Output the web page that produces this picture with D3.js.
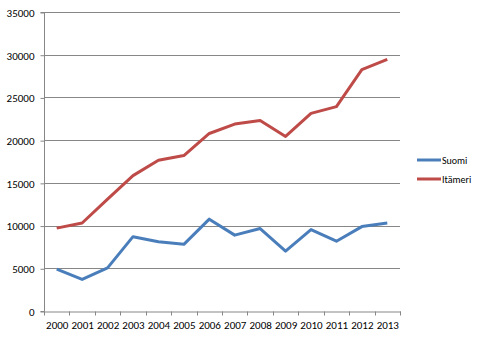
<!DOCTYPE html>
<html><head><meta charset="utf-8">
<script src="https://cdn.jsdelivr.net/npm/d3@7"></script>
<style>body{margin:0;background:#fff}svg{display:block}text{font-family:Carlito,Calibri,"Liberation Sans",Arial,sans-serif;fill:#000}</style>
</head><body><svg id="c" width="480" height="337"></svg>
<script>
const years = ["2000","2001","2002","2003","2004","2005","2006","2007","2008","2009","2010","2011","2012","2013"];
const suomi = [4900,3700,5050,8700,8100,7800,10750,8880,9650,7000,9530,8170,9880,10300];
const itameri = [9700,10300,13100,15850,17650,18200,20780,21880,22300,20430,23130,23920,28250,29450];
const yTicks = [0,5000,10000,15000,20000,25000,30000,35000];
const seriesNames = ["Suomi","Itämeri"];
const colors = ["#4a7ebb","#be4b48"];

const svg = d3.select("#c");
const L=44, R=400, T=12, B=311;
const x = d3.scaleBand().domain(years).range([L,R]);
const y = d3.scaleLinear().domain([0,35000]).range([B,T]);

// gridlines
svg.append("g").selectAll("line").data(yTicks.slice(1)).join("line")
  .attr("x1",L).attr("x2",R).attr("y1",d=>Math.round(y(d))+0.5).attr("y2",d=>Math.round(y(d))+0.5)
  .attr("stroke","#878787").attr("stroke-width",1);

// y axis
const ya = svg.append("g").attr("transform",`translate(${L+0.5},0.5)`)
  .call(d3.axisLeft(y).tickValues(yTicks).tickSize(4).tickPadding(6).tickFormat(d3.format("d")));
ya.select(".domain").attr("stroke","#878787").attr("d",`M-4,${T}H0V${B}H-4`);
ya.selectAll(".tick line").attr("stroke","#878787");
ya.selectAll("text").attr("font-size","11px").attr("fill","#000").attr("dy","0.35em");

// x axis
const xa = svg.append("g").attr("transform",`translate(0.5,${B+0.5})`)
  .call(d3.axisBottom(x).tickSize(0).tickPadding(10));
xa.select(".domain").attr("stroke","#878787");
xa.selectAll("text").attr("font-size","11px").attr("fill","#000");
// band boundary ticks
const edges = years.map(d=>x(d)).concat([R]);
xa.append("g").selectAll("line").data(edges).join("line")
  .attr("x1",d=>Math.round(d)).attr("x2",d=>Math.round(d)).attr("y1",0).attr("y2",4)
  .attr("stroke","#878787");

// lines
const line = d3.line().x((d,i)=>x(years[i])+x.bandwidth()/2).y(d=>y(d));
[suomi,itameri].forEach((s,k)=>{
  svg.append("path").attr("d",line(s)).attr("fill","none")
    .attr("stroke",colors[k]).attr("stroke-width",3).attr("stroke-linejoin","round");
});

// legend
const lg = svg.append("g");
seriesNames.forEach((n,k)=>{
  const yy = 160 + k*19;
  lg.append("line").attr("x1",417).attr("x2",441).attr("y1",yy).attr("y2",yy)
    .attr("stroke",colors[k]).attr("stroke-width",3);
  lg.append("text").attr("x",442).attr("y",yy).attr("dy","0.35em").attr("font-size","10px").text(n);
});
</script></body></html>
